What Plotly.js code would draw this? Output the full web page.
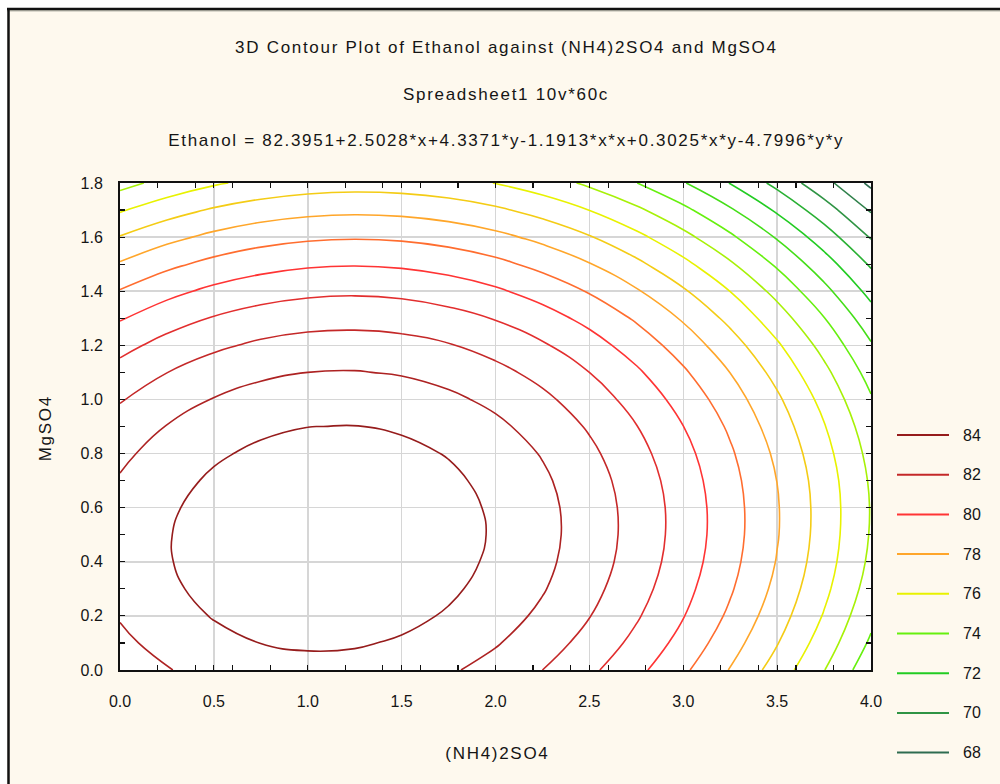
<!DOCTYPE html>
<html>
<head>
<meta charset="utf-8">
<script src="https://cdn.plot.ly/plotly-3.0.1.min.js"></script>
<style>
  html, body { margin: 0; padding: 0; background: #ffffff; }
  #chart { width: 1000px; height: 784px; }
</style>
</head>
<body>
<div id="chart"></div>
<script>
// (NH4)2SO4 grid values (x)
const xVals = [0, 0.25, 0.5, 0.75, 1.0, 1.25, 1.5, 1.75, 2.0, 2.25, 2.5, 2.75, 3.0, 3.25, 3.5, 3.75, 4.0];
// MgSO4 grid values (y)
const yVals = [0, 0.1, 0.2, 0.3, 0.4, 0.5, 0.6, 0.7, 0.8, 0.9, 1.0, 1.1, 1.2, 1.3, 1.4, 1.5, 1.6, 1.7, 1.8];
// Ethanol surface values, one row per MgSO4 value
const ethanolZ = [
  [82.40, 82.95, 83.35, 83.60, 83.71, 83.66, 83.47, 83.13, 82.64, 82.00, 81.21, 80.27, 79.18, 77.95, 76.56, 75.03, 73.35],
  [82.78, 83.34, 83.75, 84.01, 84.12, 84.09, 83.90, 83.57, 83.08, 82.45, 81.67, 80.74, 79.66, 78.43, 77.05, 75.53, 73.85],
  [83.07, 83.64, 84.05, 84.32, 84.44, 84.41, 84.24, 83.91, 83.43, 82.81, 82.03, 81.11, 80.04, 78.82, 77.45, 75.93, 74.26],
  [83.26, 83.84, 84.26, 84.54, 84.67, 84.64, 84.47, 84.15, 83.69, 83.07, 82.30, 81.39, 80.32, 79.11, 77.75, 76.24, 74.58],
  [83.36, 83.94, 84.38, 84.66, 84.79, 84.78, 84.62, 84.31, 83.84, 83.23, 82.48, 81.57, 80.51, 79.31, 77.95, 76.45, 74.80],
  [83.36, 83.95, 84.39, 84.68, 84.83, 84.82, 84.66, 84.36, 83.91, 83.30, 82.55, 81.65, 80.60, 79.41, 78.06, 76.56, 74.92],
  [83.27, 83.87, 84.31, 84.61, 84.76, 84.76, 84.62, 84.32, 83.87, 83.28, 82.53, 81.64, 80.60, 79.41, 78.07, 76.58, 74.95],
  [83.08, 83.68, 84.14, 84.45, 84.60, 84.61, 84.47, 84.18, 83.74, 83.16, 82.42, 81.54, 80.50, 79.32, 77.99, 76.51, 74.88],
  [82.79, 83.40, 83.87, 84.18, 84.35, 84.36, 84.23, 83.95, 83.52, 82.94, 82.21, 81.33, 80.31, 79.13, 77.81, 76.33, 74.71],
  [82.41, 83.03, 83.50, 83.82, 83.99, 84.02, 83.89, 83.62, 83.20, 82.62, 81.90, 81.03, 80.01, 78.85, 77.53, 76.06, 74.45],
  [81.93, 82.56, 83.04, 83.37, 83.55, 83.58, 83.46, 83.19, 82.78, 82.21, 81.50, 80.64, 79.63, 78.47, 77.16, 75.70, 74.09],
  [81.36, 81.99, 82.48, 82.82, 83.00, 83.04, 82.93, 82.67, 82.26, 81.71, 81.00, 80.15, 79.14, 77.99, 76.69, 75.24, 73.64],
  [80.69, 81.33, 81.82, 82.17, 82.36, 82.41, 82.31, 82.06, 81.65, 81.11, 80.41, 79.56, 78.56, 77.42, 76.13, 74.68, 73.09],
  [79.92, 80.57, 81.07, 81.42, 81.63, 81.68, 81.59, 81.34, 80.95, 80.41, 79.72, 78.88, 77.89, 76.75, 75.46, 74.03, 72.45],
  [79.06, 79.72, 80.23, 80.58, 80.79, 80.86, 80.77, 80.53, 80.15, 79.61, 78.93, 78.10, 77.12, 75.99, 74.71, 73.28, 71.70],
  [78.10, 78.77, 79.28, 79.65, 79.87, 79.94, 79.86, 79.63, 79.25, 78.72, 78.05, 77.22, 76.25, 75.13, 73.86, 72.44, 70.87],
  [77.05, 77.72, 78.24, 78.62, 78.84, 78.92, 78.85, 78.63, 78.26, 77.74, 77.07, 76.25, 75.29, 74.17, 72.91, 71.50, 69.93],
  [75.90, 76.58, 77.11, 77.49, 77.72, 77.81, 77.74, 77.53, 77.17, 76.65, 75.99, 75.19, 74.23, 73.12, 71.86, 70.46, 68.90],
  [74.65, 75.34, 75.88, 76.27, 76.51, 76.60, 76.54, 76.34, 75.98, 75.48, 74.82, 74.02, 73.07, 71.97, 70.72, 69.33, 67.78]
];
// Legend levels and their line colours
const legendLevels = [84, 82, 80, 78, 76, 74, 72, 70, 68];
const legendColors = ['#961c1c', '#c42828', '#ff3434', '#ffa62a', '#e8f200', '#66f00e', '#22cc22', '#2f9444', '#2e6c50'];
// Titles
const titleLines = [
  '3D Contour Plot of Ethanol against (NH4)2SO4 and MgSO4',
  'Spreadsheet1 10v*60c',
  'Ethanol = 82.3951+2.5028*x+4.3371*y-1.1913*x*x+0.3025*x*y-4.7996*y*y'
];
const xTitle = '(NH4)2SO4';
const yTitle = 'MgSO4';

const W = 1000, H = 784;
const M = {l: 120, r: 129, t: 183, b: 114};
const PW = W - M.l - M.r, PH = H - M.t - M.b;
const px2x = p => (p - M.l) / PW;
const py2y = p => (H - M.b - p) / PH;

const zMin = legendLevels[legendLevels.length - 1];
const zMax = legendLevels[0];
const colorscale = legendLevels.slice().reverse().map((lv, i) => [
  (lv - zMin) / (zMax - zMin), legendColors[legendLevels.length - 1 - i]
]);

const FONT = 'Liberation Sans, Arial, sans-serif';
const TXT = '#151515';

const trace = {
  type: 'contour',
  x: xVals, y: yVals, z: ethanolZ,
  autocontour: false,
  contours: {start: zMin, end: zMax, size: 1, coloring: 'lines', showlabels: false},
  colorscale: colorscale,
  zmin: zMin, zmax: zMax,
  showscale: false,
  line: {width: 1.6, smoothing: 1.3},
  hoverinfo: 'x+y+z'
};

const annotations = [];
const titleY = [47, 94, 140];
titleLines.forEach((t, i) => {
  annotations.push({
    text: t, xref: 'paper', yref: 'paper', x: px2x(507), y: py2y(titleY[i]),
    xanchor: 'center', yanchor: 'middle', showarrow: false,
    font: {family: FONT, size: 17, color: TXT}
  });
});
annotations.push({
  text: xTitle, xref: 'paper', yref: 'paper', x: px2x(497), y: py2y(753),
  xanchor: 'center', yanchor: 'middle', showarrow: false,
  font: {family: FONT, size: 17, color: TXT}
});
annotations.push({
  text: yTitle, xref: 'paper', yref: 'paper', x: px2x(45), y: py2y(428),
  xanchor: 'center', yanchor: 'middle', showarrow: false, textangle: -90,
  font: {family: FONT, size: 17, color: TXT}
});
const spacedCount = annotations.length;

const shapes = [];
// outer white strips and frame lines
shapes.push({type: 'rect', xref: 'paper', yref: 'paper', x0: px2x(0), x1: px2x(W), y0: py2y(0), y1: py2y(8), fillcolor: '#ffffff', line: {width: 0}, layer: 'below'});
shapes.push({type: 'rect', xref: 'paper', yref: 'paper', x0: px2x(0), x1: px2x(7), y0: py2y(0), y1: py2y(H), fillcolor: '#ffffff', line: {width: 0}, layer: 'below'});
shapes.push({type: 'line', xref: 'paper', yref: 'paper', x0: px2x(7), x1: px2x(W), y0: py2y(9), y1: py2y(9), line: {color: '#111111', width: 2.5}});
shapes.push({type: 'line', xref: 'paper', yref: 'paper', x0: px2x(7), x1: px2x(W), y0: py2y(10.8), y1: py2y(10.8), line: {color: '#8a8a80', width: 1}});
shapes.push({type: 'line', xref: 'paper', yref: 'paper', x0: px2x(8.5), x1: px2x(8.5), y0: py2y(8), y1: py2y(H), line: {color: '#111111', width: 2.5}});

// legend
const legTop = 435, legStep = 39.7;
legendLevels.forEach((lv, i) => {
  const py = legTop + i * legStep;
  shapes.push({type: 'line', xref: 'paper', yref: 'paper', x0: px2x(897), x1: px2x(949), y0: py2y(py), y1: py2y(py), line: {color: legendColors[i], width: 2}});
  annotations.push({
    text: String(lv), xref: 'paper', yref: 'paper', x: px2x(961), y: py2y(py),
    xanchor: 'left', yanchor: 'middle', showarrow: false,
    font: {family: FONT, size: 16, color: TXT}
  });
});

const axisCommon = {
  showline: true, linecolor: '#111111', linewidth: 2, mirror: 'ticks',
  ticks: 'inside', ticklen: 5, tickwidth: 1.2, tickcolor: '#111111',
  showgrid: true, gridcolor: '#d6d6d6', gridwidth: 1.5,
  zeroline: false, tickformat: '.1f',
  tickfont: {family: FONT, size: 16, color: TXT}
};

const layout = {
  width: W, height: H,
  margin: M,
  paper_bgcolor: '#fef9ee',
  plot_bgcolor: '#ffffff',
  showlegend: false,
  xaxis: Object.assign({}, axisCommon, {
    range: [0, 4], dtick: 0.5, tick0: 0,
    ticklabelstandoff: 16,
    minor: {dtick: 0.2, tick0: 0, ticks: 'inside', ticklen: 5, tickcolor: '#111111', showgrid: false}
  }),
  yaxis: Object.assign({}, axisCommon, {
    range: [0, 1.8], dtick: 0.2, tick0: 0,
    ticklabelstandoff: 12,
    minor: {dtick: 0.1, tick0: 0, ticks: 'inside', ticklen: 5, tickcolor: '#111111', showgrid: false}
  }),
  annotations: annotations,
  shapes: shapes
};

Plotly.newPlot('chart', [trace], layout, {displayModeBar: false, staticPlot: true}).then(gd => {
  const texts = gd.querySelectorAll('.annotation .annotation-text');
  for (let i = 0; i < spacedCount && i < texts.length; i++) {
    texts[i].style.letterSpacing = '1.7px';
  }
});
</script>
</body>
</html>
